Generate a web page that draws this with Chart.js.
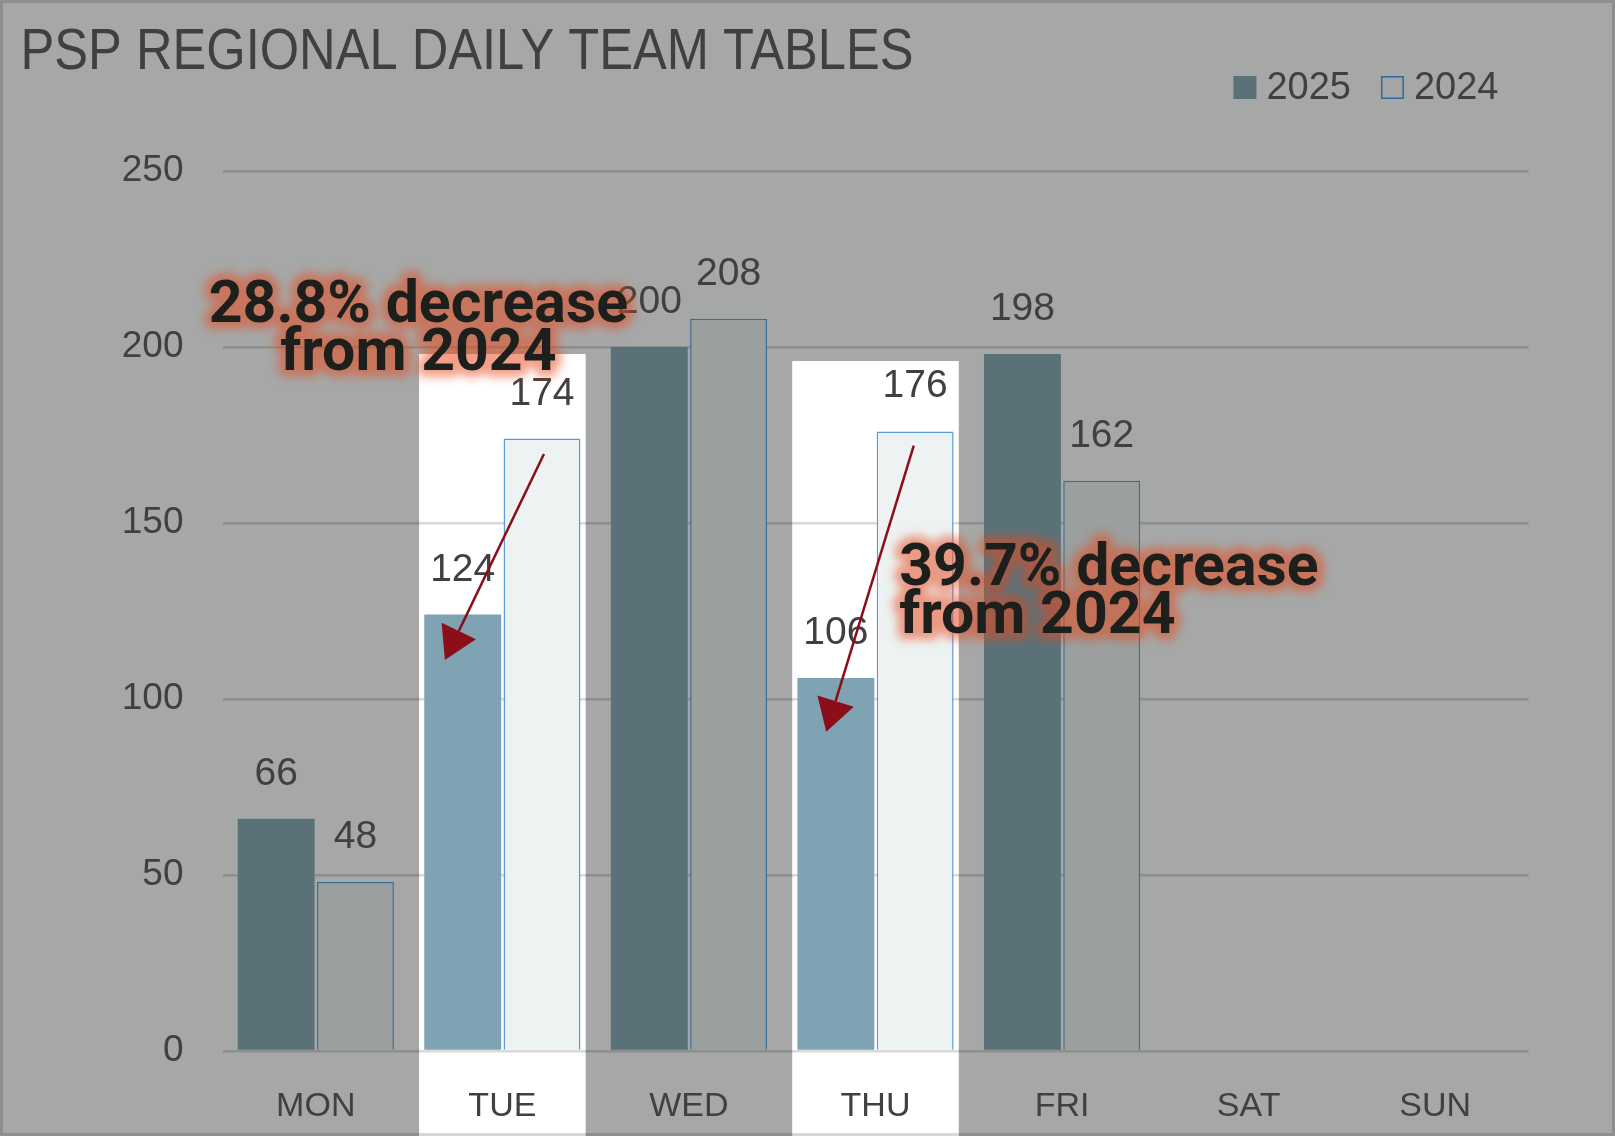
<!DOCTYPE html>
<html>
<head>
<meta charset="utf-8">
<script src="https://cdn.jsdelivr.net/npm/chart.js@4.4.1/dist/chart.umd.min.js"></script>
<style>
html, body { margin: 0; padding: 0; background: #A6A8A7; }
</style>
</head>
<body>
<canvas id="barchart" width="1615" height="1136"></canvas>
<script>
// data
const days = ['MON', 'TUE', 'WED', 'THU', 'FRI', 'SAT', 'SUN'];
const values2025 = [66, 124, 200, 106, 198, null, null];
const values2024 = [48, 174, 208, 176, 162, null, null];
const yTicks = [0, 50, 100, 150, 200, 250];
const seriesNames = ['2025', '2024'];
const chartTitle = 'PSP REGIONAL DAILY TEAM TABLES';
const highlightDays = ['TUE', 'THU'];
const noteTexts = [['28.8% decrease', 'from 2024'], ['39.7% decrease', 'from 2024']];

const isHi = days.map(d => highlightDays.includes(d));
const BG = '#A6A8A7';
const TXT = '#404040';

// annotation placement in data units (x = category index, y = value)
const notes = [
    { text: noteTexts[0], x: 0.55, y: 207.1, align: 'center' },
    { text: noteTexts[1], x: 3.127, y: 132.4, align: 'left' }
];
const arrows = [
    { from: [1.223, 169.6], to: [0.692, 111.1] },
    { from: [3.205, 172.0], to: [2.736, 90.7] }
];
const boxTop = { TUE: 198, THU: 196 };

function xAt(scale, v) {
    const w = scale.getPixelForValue(1) - scale.getPixelForValue(0);
    return scale.getPixelForValue(0) + v * w;
}

const backdrop = {
    id: 'backdrop',
    beforeDraw(chart) {
        const ctx = chart.ctx;
        const xs = chart.scales.x, ys = chart.scales.y;
        ctx.save();
        ctx.fillStyle = BG;
        ctx.fillRect(0, 0, chart.width, chart.height);
        // white highlight columns
        const cw = xs.getPixelForValue(1) - xs.getPixelForValue(0);
        ctx.fillStyle = '#FFFFFF';
        days.forEach((d, i) => {
            if (!isHi[i]) return;
            const cx = xs.getPixelForValue(i);
            const top = ys.getPixelForValue(boxTop[d]);
            ctx.fillRect(cx - cw / 2 + 10, top, cw - 20, chart.height - top);
        });
        ctx.restore();
    }
};

const barLabels = {
    id: 'barLabels',
    afterDatasetsDraw(chart) {
        const ctx = chart.ctx;
        ctx.save();
        ctx.font = '39px "Liberation Sans", Arial, sans-serif';
        ctx.fillStyle = TXT;
        ctx.textAlign = 'center';
        ctx.textBaseline = 'alphabetic';
        chart.data.datasets.forEach((ds, di) => {
            chart.getDatasetMeta(di).data.forEach((bar, i) => {
                if (ds.data[i] == null) return;
                ctx.fillText(String(ds.data[i]), bar.x, bar.y - 34);
            });
        });
        ctx.restore();
    }
};

function glowText(ctx, lines, x, y, lh, align, font) {
    const off = document.createElement('canvas');
    off.width = ctx.canvas.width;
    off.height = ctx.canvas.height;
    const o = off.getContext('2d');
    o.setTransform(ctx.getTransform());
    o.font = font;
    o.textAlign = align;
    o.lineJoin = 'round';
    o.lineWidth = 14;
    o.strokeStyle = o.fillStyle = 'rgb(233,72,28)';
    lines.forEach((t, i) => {
        o.strokeText(t, x, y + i * lh);
        o.fillText(t, x, y + i * lh);
    });
    ctx.save();
    ctx.setTransform(1, 0, 0, 1, 0, 0);
    ctx.globalAlpha = 0.52;
    ctx.filter = 'blur(5px)';
    ctx.drawImage(off, 0, 0);
    ctx.restore();

    ctx.save();
    ctx.font = font;
    ctx.textAlign = align;
    ctx.fillStyle = '#1C1F1C';
    lines.forEach((t, i) => ctx.fillText(t, x, y + i * lh));
    ctx.restore();
}

const overlay = {
    id: 'overlay',
    afterDraw(chart) {
        const ctx = chart.ctx;
        const xs = chart.scales.x, ys = chart.scales.y;
        const area = chart.chartArea;

        // arrows
        ctx.save();
        ctx.strokeStyle = ctx.fillStyle = '#8B0E1A';
        ctx.lineWidth = 2.5;
        arrows.forEach(a => {
            const x1 = xAt(xs, a.from[0]), y1 = ys.getPixelForValue(a.from[1]);
            const x2 = xAt(xs, a.to[0]), y2 = ys.getPixelForValue(a.to[1]);
            const ang = Math.atan2(y2 - y1, x2 - x1);
            const len = 32, hw = 19;
            const bx = x2 - len * Math.cos(ang), by = y2 - len * Math.sin(ang);
            ctx.beginPath();
            ctx.moveTo(x1, y1);
            ctx.lineTo(bx, by);
            ctx.stroke();
            ctx.beginPath();
            ctx.moveTo(x2, y2);
            ctx.lineTo(bx + hw * Math.sin(ang), by - hw * Math.cos(ang));
            ctx.lineTo(bx - hw * Math.sin(ang), by + hw * Math.cos(ang));
            ctx.closePath();
            ctx.fill();
        });
        ctx.restore();

        // glowing notes
        notes.forEach(n => {
            glowText(ctx, n.text, xAt(xs, n.x), ys.getPixelForValue(n.y), 48, n.align,
                'bold 59px Roboto, "Liberation Sans", sans-serif');
        });

        // title
        ctx.save();
        ctx.font = '58px "Liberation Sans Narrow", "Liberation Sans", sans-serif';
        ctx.fillStyle = TXT;
        ctx.textBaseline = 'alphabetic';
        const tw = ctx.measureText(chartTitle).width;
        ctx.translate(20.5, 68.5);
        ctx.scale(893 / tw, 1);
        ctx.fillText(chartTitle, 0, 0);
        ctx.restore();

        // legend, laid out from the right
        ctx.save();
        ctx.font = '38px "Liberation Sans", Arial, sans-serif';
        ctx.textBaseline = 'alphabetic';
        ctx.fillStyle = TXT;
        let right = area.right - 30;
        const box = 23, top = 76, base = 99;
        for (let i = seriesNames.length - 1; i >= 0; i--) {
            const w = ctx.measureText(seriesNames[i]).width;
            const tx = right - w;
            const bx = tx - 10 - box;
            ctx.fillStyle = TXT;
            ctx.fillText(seriesNames[i], tx, base);
            if (i === 0) {
                ctx.fillStyle = '#5A7178';
                ctx.fillRect(bx, top, box, box);
            } else {
                ctx.fillStyle = '#A3A6A5';
                ctx.fillRect(bx, top, box, box);
                ctx.strokeStyle = '#2F6A9E';
                ctx.lineWidth = 1.5;
                ctx.strokeRect(bx + 0.75, top + 0.75, box - 1.5, box - 1.5);
            }
            right = bx - 30;
        }
        ctx.restore();

        // frame
        ctx.save();
        ctx.strokeStyle = 'rgba(0,0,0,0.15)';
        ctx.lineWidth = 3;
        ctx.strokeRect(1.5, 1.5, chart.width - 3, chart.height - 3);
        ctx.restore();
    }
};

const ctx = document.getElementById('barchart');
const chart = new Chart(ctx, {
    type: 'bar',
    data: {
        labels: days,
        datasets: [
            {
                label: seriesNames[0],
                data: values2025,
                backgroundColor: isHi.map(h => h ? '#7FA3B2' : '#5A7178'),
                borderWidth: 0,
                categoryPercentage: 0.85,
                barPercentage: 0.97
            },
            {
                label: seriesNames[1],
                data: values2024,
                backgroundColor: isHi.map(h => h ? '#EDF2F2' : '#9B9F9D'),
                borderColor: isHi.map(h => h ? '#5B9BD5' : '#3A6F98'),
                borderWidth: 1.5,
                borderSkipped: 'start',
                categoryPercentage: 0.85,
                barPercentage: 0.97
            }
        ]
    },
    options: {
        responsive: false,
        animation: false,
        layout: {
            padding: { left: 0, right: 86.5, top: 171, bottom: 0 }
        },
        plugins: {
            legend: { display: false },
            title: { display: false },
            tooltip: { enabled: false }
        },
        scales: {
            x: {
                grid: { display: false },
                border: { display: false },
                ticks: {
                    color: TXT,
                    padding: 27,
                    font: { family: '"Liberation Sans", Arial, sans-serif', size: 34 }
                },
                afterFit(scale) { scale.height = 85; }
            },
            y: {
                min: 0,
                max: 250,
                z: 1,
                afterBuildTicks(scale) { scale.ticks = yTicks.map(v => ({ value: v })); },
                grid: {
                    color: 'rgba(0,0,0,0.15)',
                    lineWidth: 2.5,
                    drawTicks: false
                },
                border: { display: false },
                ticks: {
                    color: TXT,
                    padding: 39,
                    font: { family: '"Liberation Sans", Arial, sans-serif', size: 37 }
                },
                afterFit(scale) { scale.width = 222.5; }
            }
        }
    },
    plugins: [backdrop, barLabels, overlay]
});
</script>
</body>
</html>
